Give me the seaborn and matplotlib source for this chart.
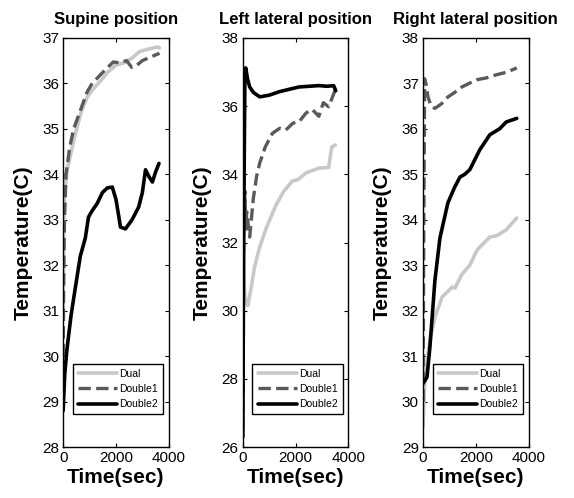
import numpy as np
import pandas as pd
import matplotlib
matplotlib.use('Agg')
import matplotlib.pyplot as plt
import seaborn as sns

# Series names and styles
series_names = ['Dual', 'Double1', 'Double2']

# Supine position
sup_dual_t = [0, 15, 40, 75, 150, 270, 400, 530, 700, 910, 1100, 1410, 1700, 2000, 2300, 2600, 2900, 3200, 3580, 3650]
sup_dual_T = [31.0, 32.5, 33.3, 33.7, 34.1, 34.4, 34.75, 35.04, 35.4, 35.7, 35.85, 36.05, 36.25, 36.4, 36.45, 36.55, 36.7, 36.75, 36.8, 36.78]
sup_d1_t = [0, 20, 50, 110, 250, 400, 650, 900, 1100, 1350, 1600, 1900, 2150, 2400, 2600, 2800, 3000, 3200, 3400, 3650]
sup_d1_T = [30.0, 31.5, 33.0, 34.0, 34.6, 35.0, 35.4, 35.8, 36.0, 36.15, 36.3, 36.47, 36.45, 36.5, 36.35, 36.4, 36.5, 36.55, 36.6, 36.66]
sup_d2_t = [0, 60, 140, 300, 460, 650, 840, 960, 1100, 1290, 1490, 1670, 1860, 2000, 2100, 2170, 2360, 2610, 2860, 3000, 3120, 3250, 3380, 3500, 3630]
sup_d2_T = [28.8, 29.6, 30.13, 30.9, 31.5, 32.2, 32.6, 33.06, 33.2, 33.36, 33.6, 33.7, 33.72, 33.45, 33.1, 32.84, 32.8, 33.0, 33.28, 33.6, 34.1, 33.95, 33.83, 34.05, 34.24]

# Left lateral position
left_dual_t = [0, 40, 100, 190, 300, 450, 640, 900, 1260, 1550, 1870, 2100, 2390, 2600, 2880, 3250, 3370, 3500]
left_dual_T = [31.5, 30.8, 30.3, 30.15, 30.6, 31.3, 31.87, 32.45, 33.1, 33.5, 33.8, 33.85, 34.04, 34.1, 34.18, 34.2, 34.8, 34.86]
left_d1_t = [0, 20, 40, 60, 80, 110, 150, 260, 400, 520, 640, 850, 1120, 1400, 1630, 1900, 2130, 2400, 2630, 2880, 3050, 3250, 3500]
left_d1_T = [26.5, 30.0, 33.9, 32.6, 33.5, 32.4, 32.9, 32.16, 33.3, 33.93, 34.33, 34.8, 35.2, 35.35, 35.3, 35.5, 35.54, 35.8, 35.9, 35.7, 36.1, 35.98, 36.47]
left_d2_t = [0, 40, 80, 110, 180, 260, 400, 640, 1000, 1380, 1800, 2130, 2500, 2880, 3200, 3440, 3520]
left_d2_T = [26.3, 33.0, 36.9, 37.12, 36.8, 36.56, 36.4, 36.27, 36.32, 36.42, 36.5, 36.56, 36.58, 36.6, 36.58, 36.6, 36.45]

# Right lateral position
right_dual_t = [0, 75, 260, 450, 720, 1100, 1210, 1470, 1770, 2040, 2150, 2530, 2790, 3150, 3550]
right_dual_T = [29.44, 30.6, 31.35, 31.86, 32.3, 32.52, 32.5, 32.8, 33.0, 33.33, 33.4, 33.62, 33.65, 33.78, 34.04]
right_d1_t = [0, 30, 60, 100, 190, 300, 450, 700, 940, 1200, 1470, 1750, 2040, 2400, 2790, 3200, 3550]
right_d1_T = [30.0, 34.0, 37.1, 37.0, 36.7, 36.5, 36.45, 36.55, 36.7, 36.8, 36.92, 37.0, 37.08, 37.12, 37.19, 37.25, 37.34]
right_d2_t = [0, 150, 260, 450, 640, 940, 1200, 1400, 1580, 1770, 2150, 2530, 2900, 3150, 3550]
right_d2_T = [30.4, 30.54, 31.2, 32.67, 33.6, 34.37, 34.72, 34.94, 35.0, 35.1, 35.54, 35.87, 36.0, 36.15, 36.23]

panel_titles = ['Supine position', 'Left lateral position', 'Right lateral position']
panel_data = [
    [(sup_dual_t, sup_dual_T), (sup_d1_t, sup_d1_T), (sup_d2_t, sup_d2_T)],
    [(left_dual_t, left_dual_T), (left_d1_t, left_d1_T), (left_d2_t, left_d2_T)],
    [(right_dual_t, right_dual_T), (right_d1_t, right_d1_T), (right_d2_t, right_d2_T)],
]
y_limits = [(28, 37), (26, 38), (29, 38)]
y_ticks = [list(range(28, 38)), list(range(26, 39, 2)), list(range(29, 39))]
x_ticks = [0, 2000, 4000]

colors = ['#c8c8c8', '#5a5a5a', '#000000']
styles = ['-', '--', '-']
widths = [2.6, 2.4, 2.6]

sns.set_style('ticks')
plt.rcParams['font.family'] = ['Liberation Sans', 'DejaVu Sans']
plt.rcParams['text.color'] = 'black'
plt.rcParams['axes.labelcolor'] = 'black'

fig = plt.figure(figsize=(5.74, 4.98), dpi=100)
lefts = [0.110, 0.423, 0.737]

for i, (title, data) in enumerate(zip(panel_titles, panel_data)):
    ax = fig.add_axes([lefts[i], 0.102, 0.184, 0.822])
    for name, (t, T), c, ls, lw in zip(series_names, data, colors, styles, widths):
        df = pd.DataFrame({'Time': t, 'Temp': T})
        sns.lineplot(data=df, x='Time', y='Temp', ax=ax, color=c, linestyle=ls,
                     linewidth=lw, label=name, estimator=None, sort=False)
    ax.set_xlim(0, 4000)
    ax.set_ylim(*y_limits[i])
    ax.set_xticks(x_ticks)
    ax.set_yticks(y_ticks[i])
    ax.tick_params(direction='in', top=True, right=True, labelsize=11, length=3,
                   width=0.8, pad=3, colors='black')
    for s in ax.spines.values():
        s.set_linewidth(1.0)
        s.set_color('black')
    ax.set_title(title, fontsize=12, fontweight='bold', pad=10, color='black')
    ax.set_xlabel('Time(sec)', fontsize=15, fontweight='bold', labelpad=2)
    ax.set_ylabel('Temperature(C)', fontsize=15, fontweight='bold', labelpad=7)
    leg = ax.legend(loc='lower right', bbox_to_anchor=(0.95, 0.08), fontsize=7.5,
                    handlelength=3.8, frameon=True, fancybox=False,
                    borderpad=0.5, labelspacing=0.5, handletextpad=0.2,
                    borderaxespad=0)
    leg.get_frame().set_edgecolor('black')
    leg.get_frame().set_linewidth(1.0)
    leg.get_frame().set_alpha(1)

fig.savefig('out.png', dpi=100)
